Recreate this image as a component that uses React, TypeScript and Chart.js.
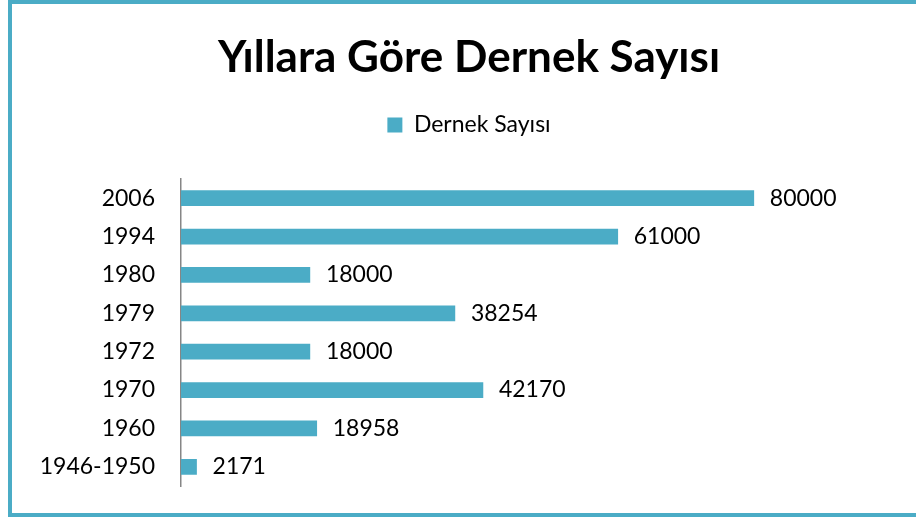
import React, { useEffect, useRef } from "react";
import { Chart, registerables } from "chart.js";

Chart.register(...registerables);

const titleText = "Yıllara Göre Dernek Sayısı";
const seriesName = "Dernek Sayısı";
const categories = ["2006", "1994", "1980", "1979", "1972", "1970", "1960", "1946-1950"];
const values = [80000, 61000, 18000, 38254, 18000, 42170, 18958, 2171];
const axisMax = 90000;

const BAR_COLOR = "#4BACC6";
const FONT = "Lato, 'Open Sans', sans-serif";

const valueLabelPlugin = {
  id: "valueLabels",
  afterDatasetsDraw(chart: any) {
    const ctx = chart.ctx;
    const meta = chart.getDatasetMeta(0);
    ctx.save();
    ctx.font = `23px ${FONT}`;
    ctx.fillStyle = "#000";
    ctx.textAlign = "left";
    ctx.textBaseline = "middle";
    meta.data.forEach((bar: any, i: number) => {
      ctx.fillText(String(values[i]), bar.x + 16, bar.y);
    });
    ctx.restore();
  },
};

export default function App() {
  const canvasRef = useRef<HTMLCanvasElement | null>(null);

  useEffect(() => {
    if (!canvasRef.current) return;
    const chart = new Chart(canvasRef.current, {
      type: "bar",
      data: {
        labels: categories,
        datasets: [
          {
            label: seriesName,
            data: values,
            backgroundColor: BAR_COLOR,
            borderWidth: 0,
            barThickness: 15,
          },
        ],
      },
      plugins: [valueLabelPlugin],
      options: {
        indexAxis: "y",
        animation: false,
        responsive: false,
        layout: { autoPadding: false, padding: { left: 12, right: 2, top: 0, bottom: 27 } },
        scales: {
          x: {
            display: false,
            min: 0,
            max: axisMax,
          },
          y: {
            grid: { display: false, drawTicks: true, tickLength: 26 },
            border: { display: true, color: "#868686", width: 1.5 },
            ticks: {
              color: "#000",
              padding: 0,
              font: { family: FONT, size: 23 },
            },
            afterFit: (scale: any) => {
              scale.width = 157;
            },
          },
          yRight: {
            type: "category",
            position: "right",
            grid: { display: false, drawTicks: false },
            border: { display: false },
            ticks: { display: false },
            afterFit: (scale: any) => {
              scale.width = 88.6;
            },
          },
        },
        plugins: {
          title: {
            display: true,
            text: titleText,
            color: "#000",
            font: { family: FONT, size: 44, weight: "bold" },
            padding: { top: 27, bottom: 19.7 },
          },
          subtitle: {
            display: true,
            text: " ",
            weight: 500,
            font: { size: 10 },
            padding: { top: 0, bottom: 20.5 },
          } as any,
          legend: {
            display: true,
            position: "top",
            labels: {
              color: "#000",
              boxWidth: 15,
              boxHeight: 15,
              padding: 10,
              font: { family: FONT, size: 23 },
            },
          },
          tooltip: { enabled: false },
        },
      },
    });
    return () => chart.destroy();
  }, []);

  return (
    <div
      style={{
        position: "absolute",
        left: 8,
        top: 0,
        width: 908,
        height: 517,
        boxSizing: "border-box",
        borderTop: `4px solid ${BAR_COLOR}`,
        borderLeft: `4px solid ${BAR_COLOR}`,
        borderBottom: `4px solid ${BAR_COLOR}`,
        background: "#fff",
      }}
    >
      <canvas ref={canvasRef} width={904} height={509} style={{ display: "block", width: 904, height: 509 }} />
    </div>
  );
}
